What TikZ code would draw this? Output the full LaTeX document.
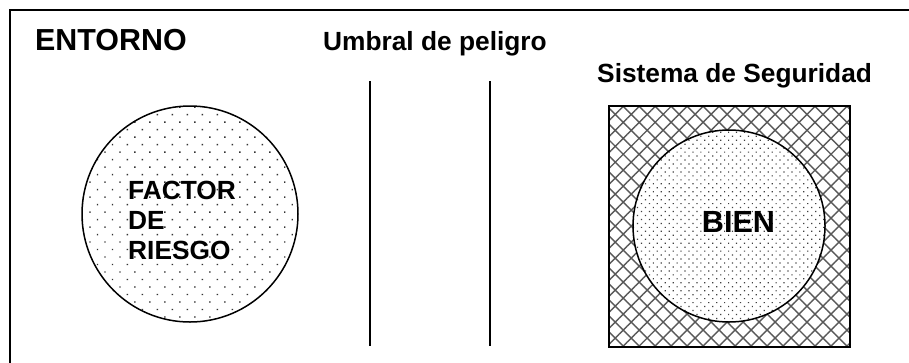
\documentclass[tikz,border=0pt]{standalone}
\usepackage{fontspec}
\setmainfont{Liberation Sans}
\usetikzlibrary{patterns.meta}

\begin{document}
\begin{tikzpicture}[
    x=1pt, y=-1pt,
    heading/.style={font=\bfseries\fontsize{30.4}{36}\selectfont, inner sep=0pt, anchor=base west},
    subheading/.style={font=\bfseries\fontsize{26.3}{30}\selectfont, inner sep=0pt, anchor=base west},
    inner_text/.style={font=\bfseries\fontsize{26.3}{30}\selectfont, inner sep=0pt, align=left},
    factor/.style={circle, draw, line width=1.5pt, minimum size=216pt, inner sep=0pt, preaction={fill=white}, pattern={Dots[angle=45, distance=10.6pt, radius=0.95pt]}, pattern color=black!80},
    asset/.style={circle, draw, line width=1.5pt, minimum size=192pt, inner sep=0pt, preaction={fill=white}, pattern={Dots[angle=45, distance=5.6pt, radius=0.85pt]}, pattern color=black!75},
    shield/.style={rectangle, draw, line width=2pt, minimum size=241pt, inner sep=0pt, preaction={fill=white}, pattern={Hatch[angle=45, distance=11.3pt, line width=1.4pt]}, pattern color=black!65},
    frame_line/.style={line width=2pt},
    threshold/.style={line width=1.8pt}
]
    \useasboundingbox (0,0) rectangle (909,362);
    % Frame
    \draw[frame_line] (10,370) -- (10,10) -- (920,10);
    % Titles
    \node[heading] (entorno) at (35,50) {ENTORNO};
    \node[subheading] (umbral) at (323,50) {Umbral de peligro};
    \node[subheading] (sistema) at (597,82) {Sistema de Seguridad};
    % Threshold lines
    \draw[threshold] (370,81) -- (370,346);
    \draw[threshold] (490,81) -- (490,346);
    % Risk factor
    \node[factor] (riesgo) at (190,214) {};
    \node[inner_text, anchor=west] (riesgo_text) at (128,220.5) {FACTOR\\DE\\RIESGO};
    % Security system and asset
    \node[shield] (seguridad) at (729.5,226.5) {};
    \node[asset] (bien) at (729,226) {};
    \node[inner_text, font=\bfseries\fontsize{30.6}{36}\selectfont] (bien_text) at (738.5,221.5) {BIEN};
\end{tikzpicture}
\end{document}
